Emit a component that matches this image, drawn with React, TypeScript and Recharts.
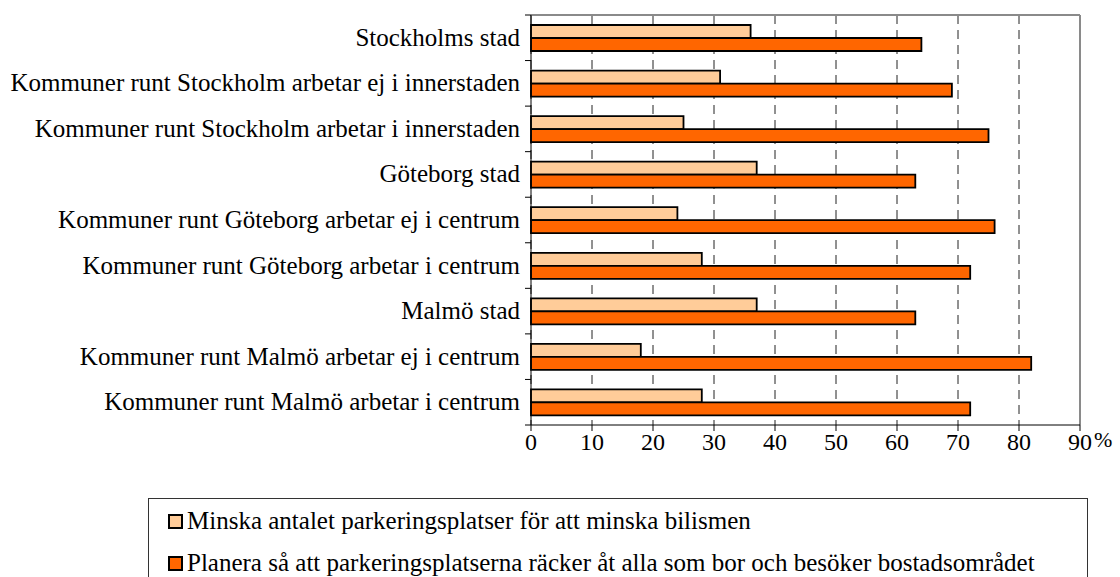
import React from "react";
import { BarChart, Bar, XAxis, YAxis, CartesianGrid, ReferenceLine } from "recharts";

const categories = [
  "Stockholms stad",
  "Kommuner runt Stockholm arbetar ej i innerstaden",
  "Kommuner runt Stockholm arbetar i innerstaden",
  "Göteborg stad",
  "Kommuner runt Göteborg arbetar ej i centrum",
  "Kommuner runt Göteborg arbetar i centrum",
  "Malmö stad",
  "Kommuner runt Malmö arbetar ej i centrum",
  "Kommuner runt Malmö arbetar i centrum",
];
const minska = [36, 31, 25, 37, 24, 28, 37, 18, 28];
const planera = [64, 69, 75, 63, 76, 72, 63, 82, 72];
const xTicks = [0, 10, 20, 30, 40, 50, 60, 70, 80, 90];
const seriesNames = [
  "Minska antalet parkeringsplatser för att minska bilismen",
  "Planera så att parkeringsplatserna räcker åt alla som bor och besöker bostadsområdet",
];
const seriesColors = ["#FFCC99", "#FF6600"];

const data = categories.map((name, i) => ({ name, minska: minska[i], planera: planera[i] }));

const W = 1120;
const H = 577;
const PLOT_LEFT = 531;
const PLOT_TOP = 15;
const PLOT_RIGHT = 1080;
const PLOT_BOTTOM = 425;
const BAND = (PLOT_BOTTOM - PLOT_TOP) / categories.length;
const FONT = "Liberation Serif, Times New Roman, serif";
const FS = 25;

const YTick = (props: any) => {
  const { y, payload, index } = props;
  return (
    <g>
      <text x={PLOT_LEFT - 11} y={y} dy={8} textAnchor="end" fontFamily={FONT} fontSize={FS} fill="#000">
        {payload.value}
      </text>
      <line x1={PLOT_LEFT - 6} x2={PLOT_LEFT} y1={y - BAND / 2} y2={y - BAND / 2} stroke="#000" strokeWidth={1} />
      {index === categories.length - 1 && (
        <line x1={PLOT_LEFT - 6} x2={PLOT_LEFT} y1={y + BAND / 2} y2={y + BAND / 2} stroke="#000" strokeWidth={1} />
      )}
    </g>
  );
};

const XTick = (props: any) => {
  const { x, payload } = props;
  const base = PLOT_BOTTOM + 25;
  return (
    <g>
      <text x={x} y={base} textAnchor="middle" fontFamily={FONT} fontSize={24} fill="#000">
        {payload.value}
      </text>
      {payload.value === xTicks[xTicks.length - 1] && (
        <text x={x + 14} y={base - 3} textAnchor="start" fontFamily={FONT} fontSize={22} fill="#000">
          %
        </text>
      )}
    </g>
  );
};

export default function App() {
  return (
    <div style={{ position: "absolute", left: 0, top: 0, width: W, height: H, background: "#fff" }}>
      <BarChart
        layout="vertical"
        width={W}
        height={H}
        data={data}
        margin={{ top: PLOT_TOP, right: W - PLOT_RIGHT, bottom: H - PLOT_BOTTOM - 30, left: 0 }}
        barGap={0}
        barSize={13}
      >
        <CartesianGrid horizontal={false} vertical={true} stroke="#222" strokeDasharray="9 6" />
        <ReferenceLine x={xTicks[xTicks.length - 1]} stroke="#8a8a8a" strokeWidth={2} />
        <ReferenceLine y={categories[0]} position="start" stroke="#8a8a8a" strokeWidth={2} />
        <XAxis
          type="number"
          domain={[0, 90]}
          ticks={xTicks}
          interval={0}
          height={30}
          axisLine={{ stroke: "#000", strokeWidth: 1 }}
          tickLine={{ stroke: "#000" }}
          tickSize={6}
          tick={<XTick />}
        />
        <YAxis
          type="category"
          dataKey="name"
          width={PLOT_LEFT}
          tickLine={false}
          axisLine={{ stroke: "#000", strokeWidth: 1 }}
          tick={<YTick />}
          interval={0}
        />
        <Bar dataKey="minska" name={seriesNames[0]} fill={seriesColors[0]} stroke="#000" strokeWidth={1.8} isAnimationActive={false} />
        <Bar dataKey="planera" name={seriesNames[1]} fill={seriesColors[1]} stroke="#000" strokeWidth={1.8} isAnimationActive={false} />
      </BarChart>
      <div
        style={{
          position: "absolute",
          left: 148,
          top: 498,
          width: 940,
          height: 120,
          border: "1px solid #333",
          boxSizing: "border-box",
          fontFamily: FONT,
          fontSize: FS,
          color: "#000",
        }}
      >
        {seriesNames.map((n, i) => (
          <div
            key={n}
            style={{ position: "absolute", left: 19, top: 8 + i * 42, display: "flex", alignItems: "center", whiteSpace: "nowrap", height: 28 }}
          >
            <span
              style={{
                display: "inline-block",
                width: 15,
                height: 15,
                background: seriesColors[i],
                border: "2px solid #000",
                boxSizing: "border-box",
                marginRight: 4,
              }}
            />
            <span>{n}</span>
          </div>
        ))}
      </div>
    </div>
  );
}
